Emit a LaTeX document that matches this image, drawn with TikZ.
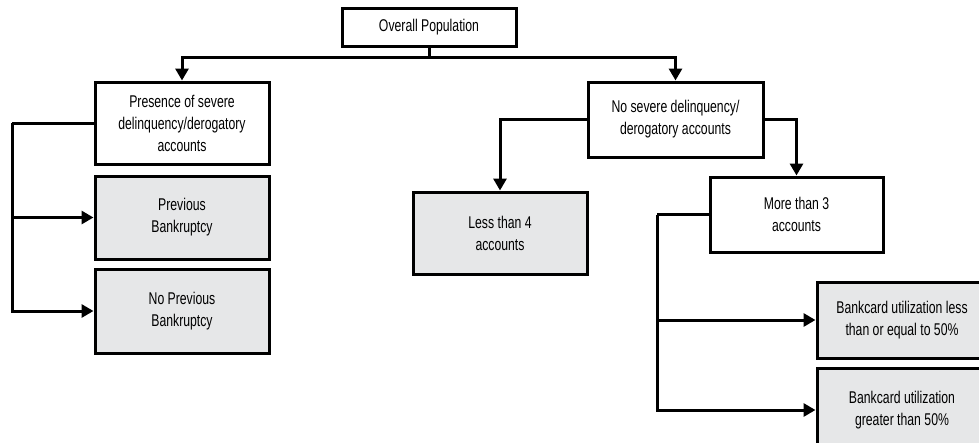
\documentclass[tikz,border=0pt]{standalone}
\usepackage{fontspec}
\setmainfont{Liberation Sans}[FakeStretch=0.72]
\usetikzlibrary{arrows.meta}
\definecolor{boxgray}{HTML}{E6E7E8}
\tikzset{
  box/.style={draw=black, line width=3pt, fill=white, align=center, inner sep=0pt,
    font=\fontsize{17}{22}\selectfont},
  gbox/.style={box, fill=boxgray},
  conn/.style={line width=3pt, -{Triangle[length=12pt,width=13pt]}},
  plain/.style={line width=3pt}
}
\begin{document}
\begin{tikzpicture}[x=1pt,y=-1pt]
\useasboundingbox (0,0) rectangle (979,442);
\node[box, minimum width=174pt, minimum height=38pt] (top) at (429,27) {Overall Population};
\node[box, minimum width=174pt, minimum height=82pt] (pres) at (182,123) {Presence of severe\\delinquency/derogatory\\accounts};
\node[gbox, minimum width=174pt, minimum height=83pt] (prev) at (182,217.5) {Previous\\Bankruptcy};
\node[gbox, minimum width=174pt, minimum height=84pt] (noprev) at (182,311) {No Previous\\Bankruptcy};
\node[box, minimum width=175pt, minimum height=75pt] (nosev) at (675.5,119.5) {No severe delinquency/\\derogatory accounts};
\node[gbox, minimum width=174pt, minimum height=82pt] (less4) at (500,233) {Less than 4\\accounts};
\node[box, minimum width=173pt, minimum height=75pt] (more3) at (796.5,214.5) {More than 3\\accounts};
\node[gbox, minimum width=170pt, minimum height=76pt] (bc1) at (902,320) {Bankcard utilization less\\than or equal to 50\%};
\node[gbox, minimum width=170pt, minimum height=84pt] (bc2) at (902,410) {Bankcard utilization\\greater than 50\%};
\coordinate (hub) at (429,57);
\coordinate (lft) at (12,123);
\coordinate (rgt) at (657,214.5);
\draw[plain] (top.south) -- (hub);
\draw[conn] (hub) -| (pres.north);
\draw[conn] (hub) -| (nosev.north);
\draw[plain] (pres.west) -- (lft);
\draw[conn] (lft) |- (prev.west);
\draw[conn] (lft) |- (noprev.west);
\draw[conn] (nosev.west) -| (less4.north);
\draw[conn] (nosev.east) -| (more3.north);
\draw[plain] (more3.west) -- (rgt);
\draw[conn] (rgt) |- (bc1.west);
\draw[conn] (rgt) |- (bc2.west);
\end{tikzpicture}
\end{document}
